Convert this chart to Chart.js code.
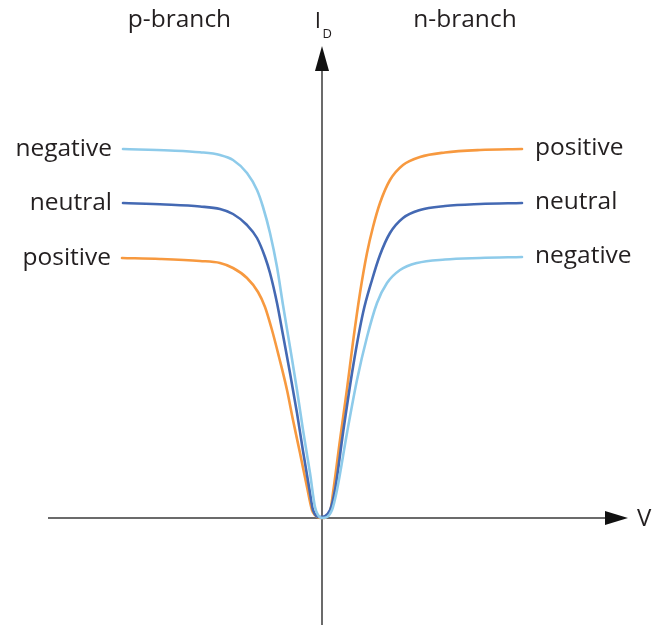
<!DOCTYPE html>
<html>
<head>
<meta charset="utf-8">
<script src="https://cdn.jsdelivr.net/npm/chart.js@4"></script>
<style>
  html, body { margin: 0; padding: 0; background: #ffffff; }
  #wrap { width: 653px; height: 625px; }
</style>
</head>
<body>
<div id="wrap"><canvas id="c" width="653" height="625"></canvas></div>
<script>
// Gate voltage (arbitrary units) and drain current (arbitrary units)
const vNegative = [-7.96, -6.08, -4.88, -4.08, -3.56, -3.0, -2.6, -2.36, -2.08, -1.8, -1.56, -1.28, -1.0, -0.76, -0.48, -0.28, -0.16, 0, 0.4, 0.6, 1.0, 1.4, 1.8, 2.2, 2.6, 3.12, 3.8, 4.92, 6.32, 8.0];
const iNegative = [14.76, 14.7, 14.63, 14.52, 14.32, 13.8, 13.12, 12.44, 11.4, 10.04, 8.52, 6.84, 5.12, 3.52, 1.8, 0.44, 0.12, 0, 0.32, 1.12, 3.4, 5.52, 7.24, 8.6, 9.4, 9.92, 10.2, 10.34, 10.4, 10.44];

const vNeutral = [-7.96, -6.28, -4.88, -4.08, -3.56, -3.0, -2.6, -2.28, -2.08, -1.8, -1.56, -1.28, -1.0, -0.76, -0.48, -0.36, -0.08, 0.32, 0.52, 0.84, 1.24, 1.64, 2.0, 2.32, 2.72, 3.24, 3.92, 4.92, 6.32, 8.0];
const iNeutral = [12.6, 12.54, 12.46, 12.36, 12.16, 11.72, 11.2, 10.44, 9.8, 8.6, 7.32, 5.8, 4.2, 2.68, 1.0, 0.32, 0.04, 0.32, 1.12, 3.4, 6.04, 8.2, 9.52, 10.52, 11.4, 12.0, 12.32, 12.48, 12.56, 12.6];

const vPositive = [-8.0, -6.48, -4.88, -4.08, -3.56, -3.0, -2.56, -2.28, -2.0, -1.72, -1.4, -1.16, -0.88, -0.6, -0.4, -0.28, 0, 0.32, 0.44, 0.72, 1.0, 1.24, 1.52, 1.8, 2.04, 2.32, 2.72, 3.24, 3.92, 4.92, 6.32, 8.0];
const iPositive = [10.4, 10.36, 10.28, 10.2, 10.0, 9.6, 9.04, 8.44, 7.52, 6.44, 5.12, 3.92, 2.6, 1.24, 0.32, 0.12, 0, 0.24, 1.0, 3.12, 5.16, 7.04, 9.0, 10.6, 11.64, 12.6, 13.52, 14.12, 14.44, 14.62, 14.72, 14.76];

const seriesNames = ["negative", "neutral", "positive"];
const branchLabels = ["p-branch", "n-branch"];
const axisLabels = { x: "V", y: "I", ySub: "D" };

const colors = { negative: "#8ecbea", neutral: "#4469b3", positive: "#f7993f" };
const textColor = "#231f20";
const axisColor = "#3a3a3a";
const FONT = "'Open Sans', 'Noto Sans', sans-serif";

function pts(xs, ys) { return xs.map((x, i) => ({ x: x, y: ys[i] })); }

const datasets = [
  { label: seriesNames[0], data: pts(vNegative, iNegative), borderColor: colors.negative },
  { label: seriesNames[1], data: pts(vNeutral, iNeutral), borderColor: colors.neutral },
  { label: seriesNames[2], data: pts(vPositive, iPositive), borderColor: colors.positive }
].map(d => Object.assign(d, {
  borderWidth: 2.6, pointRadius: 0, fill: false, cubicInterpolationMode: "monotone",
  borderCapStyle: "round", borderJoinStyle: "round"
}));

const overlay = {
  id: "overlay",
  beforeDatasetsDraw(chart) {
    const ctx = chart.ctx;
    const xs = chart.scales.x, ys = chart.scales.y;
    const x0 = xs.getPixelForValue(0), y0 = ys.getPixelForValue(0);
    ctx.save();
    ctx.strokeStyle = axisColor;
    ctx.fillStyle = "#111111";
    ctx.lineWidth = 1.5;
    // x axis
    ctx.beginPath();
    ctx.moveTo(48, y0); ctx.lineTo(606, y0); ctx.stroke();
    ctx.beginPath();
    ctx.moveTo(628, y0); ctx.lineTo(605, y0 - 7); ctx.lineTo(605, y0 + 7); ctx.closePath(); ctx.fill();
    // y axis
    ctx.beginPath();
    ctx.moveTo(x0, chart.height); ctx.lineTo(x0, 70); ctx.stroke();
    ctx.beginPath();
    ctx.moveTo(x0, 46); ctx.lineTo(x0 - 7, 71); ctx.lineTo(x0 + 7, 71); ctx.closePath(); ctx.fill();
    ctx.restore();
  },
  afterDatasetsDraw(chart) {
    const ctx = chart.ctx;
    const xs = chart.scales.x, ys = chart.scales.y;
    const x0 = xs.getPixelForValue(0), y0 = ys.getPixelForValue(0);
    ctx.save();
    ctx.fillStyle = textColor;
    ctx.textBaseline = "alphabetic";
    ctx.font = "24.5px " + FONT;
    // curve labels
    chart.data.datasets.forEach(ds => {
      const d = ds.data;
      const first = d[0], last = d[d.length - 1];
      ctx.textAlign = "right";
      ctx.fillText(ds.label, xs.getPixelForValue(first.x) - 11, ys.getPixelForValue(first.y) + 7);
      ctx.textAlign = "left";
      ctx.fillText(ds.label, xs.getPixelForValue(last.x) + 13, ys.getPixelForValue(last.y) + 6);
    });
    // branch labels
    ctx.textAlign = "center";
    ctx.fillText(branchLabels[0], 179.5, 27);
    ctx.fillText(branchLabels[1], 465, 27);
    // axis labels
    ctx.textAlign = "left";
    ctx.font = "24px " + FONT;
    ctx.fillText(axisLabels.x, 637, y0 + 8);
    ctx.font = "22.5px " + FONT;
    ctx.textAlign = "center";
    ctx.fillText(axisLabels.y, x0 - 4, 28);
    ctx.font = "13px " + FONT;
    ctx.textAlign = "left";
    ctx.fillText(axisLabels.ySub, x0 + 0.5, 38);
    ctx.restore();
  }
};

new Chart(document.getElementById("c"), {
  type: "line",
  data: { datasets: datasets },
  options: {
    responsive: false,
    animation: false,
    layout: { padding: 0 },
    plugins: { legend: { display: false }, tooltip: { enabled: false } },
    scales: {
      x: { type: "linear", display: false, min: -12.88, max: 13.24 },
      y: { type: "linear", display: false, min: -4.28, max: 20.72 }
    }
  },
  plugins: [overlay]
});
</script>
</body>
</html>
